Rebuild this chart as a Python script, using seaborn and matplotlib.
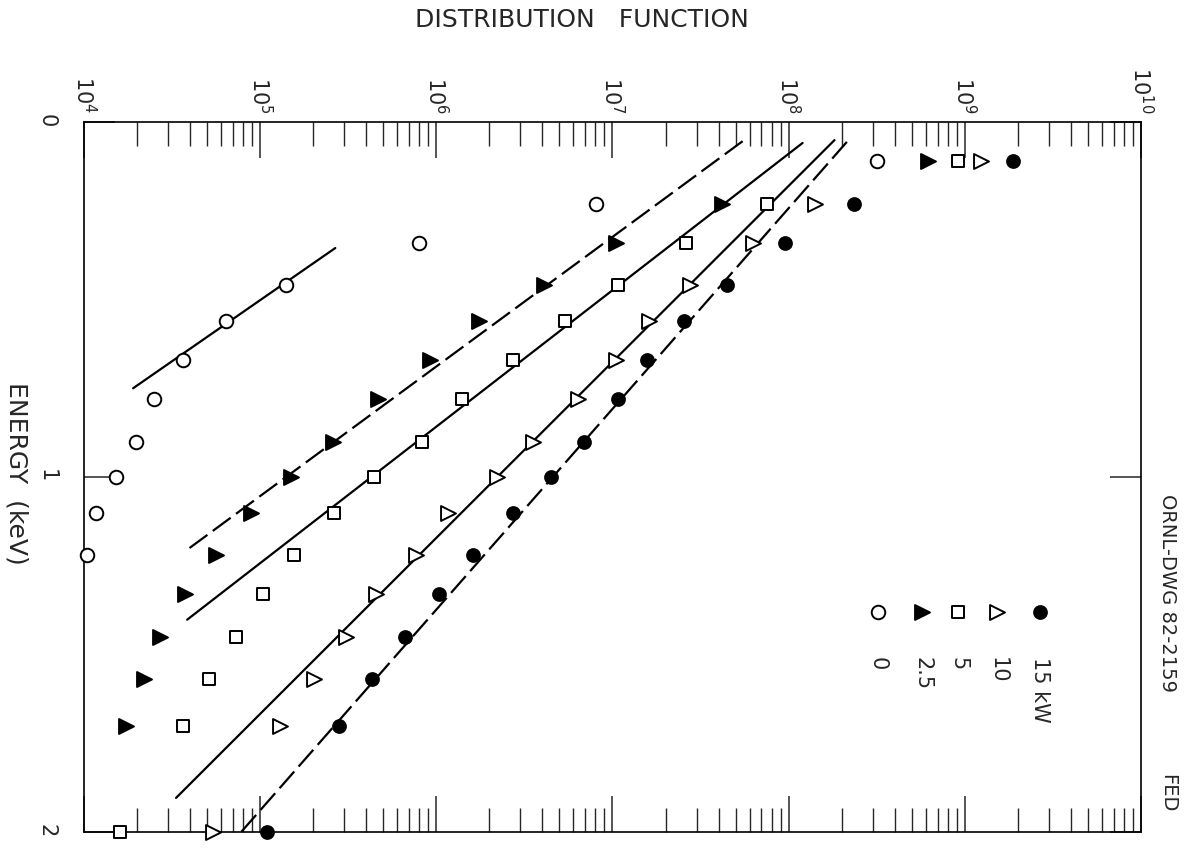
import numpy as np
import pandas as pd
import matplotlib
matplotlib.use("Agg")
import matplotlib.pyplot as plt
import seaborn as sns
from matplotlib.ticker import LogLocator, FixedLocator, NullFormatter

# energias (keV) das linhas de pontos
energy = [0.11, 0.23, 0.34, 0.46, 0.56, 0.67, 0.78, 0.90, 1.00, 1.10,
          1.22, 1.33, 1.45, 1.57, 1.70, 2.00]

# funcao de distribuicao para cada potencia
f_15kw = [1.88e9, 2.36e8, 9.5e7, 4.45e7, 2.53e7, 1.56e7, 1.07e7, 6.9e6,
          4.5e6, 2.74e6, 1.62e6, 1.04e6, 6.6e5, 4.3e5, 2.8e5, 1.1e5]
f_10kw = [1.23e9, 1.42e8, 6.3e7, 2.77e7, 1.61e7, 1.05e7, 6.4e6, 3.56e6,
          2.21e6, 1.17e6, 7.7e5, 4.56e5, 3.08e5, 2.03e5, 1.3e5, 5.4e4]
f_5kw = [9.1e8, 7.5e7, 2.63e7, 1.07e7, 5.4e6, 2.74e6, 1.39e6, 8.3e5,
         4.45e5, 2.63e5, 1.56e5, 1.04e5, 7.3e4, 5.1e4, 3.63e4, 1.6e4]
f_2p5kw = [6.2e8, 4.2e7, 1.05e7, 4.06e6, 1.75e6, 9.2e5, 4.66e5, 2.58e5,
           1.5e5, 8.9e4, 5.6e4, 3.75e4, 2.7e4, 2.19e4, 1.73e4]
f_0kw = [3.16e8, 8.1e6, 8.0e5, 1.41e5, 6.4e4, 3.63e4, 2.5e4, 1.97e4,
         1.52e4, 1.17e4, 1.04e4]

# retas ajustadas (extremos)
fit_e_15 = [0.056, 2.00]
fit_f_15 = [2.14e8, 7.8e4]
fit_e_10 = [0.051, 1.904]
fit_f_10 = [1.82e8, 3.33e4]
fit_e_5 = [0.059, 1.402]
fit_f_5 = [1.2e8, 3.85e4]
fit_e_2p5 = [0.054, 1.205]
fit_f_2p5 = [5.48e7, 3.85e4]
fit_e_0 = [0.355, 0.750]
fit_f_0 = [2.67e5, 1.9e4]

labels = ["15 kW", "10", "5", "2.5", "0"]
x_ticks = [1e4, 1e5, 1e6, 1e7, 1e8, 1e9, 1e10]
x_ticklabels = ["$10^{4}$", "$10^{5}$", "$10^{6}$", "$10^{7}$", "$10^{8}$",
                "$10^{9}$", "$10^{10}$"]

series = [f_15kw, f_10kw, f_5kw, f_2p5kw, f_0kw]
df = pd.concat([pd.DataFrame({"E": energy[:len(v)], "F": v, "P": lab})
                for v, lab in zip(series, labels)], ignore_index=True)

fits = pd.concat([
    pd.DataFrame({"E": fit_e_15, "F": fit_f_15, "P": "15 kW"}),
    pd.DataFrame({"E": fit_e_10, "F": fit_f_10, "P": "10"}),
    pd.DataFrame({"E": fit_e_5, "F": fit_f_5, "P": "5"}),
    pd.DataFrame({"E": fit_e_2p5, "F": fit_f_2p5, "P": "2.5"}),
    pd.DataFrame({"E": fit_e_0, "F": fit_f_0, "P": "0"}),
], ignore_index=True)

sns.set_style("white")
plt.rcParams["font.family"] = ["DejaVu Sans"]

# estilos: marcador, preenchimento, tamanho, estilo da reta
estilo = {
    "15 kW": ("o", "black", 85, (0, (10, 3))),
    "10": (">", "white", 115, "-"),
    "5": ("s", "white", 85, "-"),
    "2.5": (">", "black", 115, (0, (10, 3))),
    "0": ("o", "white", 95, "-"),
}

fig = plt.figure(figsize=(11.86, 8.48), dpi=100)
ax = fig.add_axes([84 / 1186, 1 - 832 / 848, (1141 - 84) / 1186, (832 - 122) / 848])
ax.set_xscale("log")

for lab in labels:
    m, fc, s, ls = estilo[lab]
    sub = fits[fits.P == lab]
    sns.lineplot(data=sub, x="F", y="E", sort=False, estimator=None, color="black",
                 linewidth=1.6, linestyle=ls, ax=ax, legend=False, zorder=2)
    pts = df[df.P == lab]
    sns.scatterplot(data=pts, x="F", y="E", marker=m, s=s, facecolor=fc,
                    edgecolor="black", linewidth=1.4, ax=ax, legend=False,
                    clip_on=False, zorder=3)

ax.set_xlim(1e4, 1e10)
ax.set_ylim(2, 0)
ax.set_xlabel("")
ax.set_ylabel("")

ax.xaxis.set_major_locator(FixedLocator(x_ticks))
ax.set_xticklabels(x_ticklabels)
ax.xaxis.set_minor_locator(LogLocator(base=10, subs=np.arange(2, 10), numticks=20))
ax.xaxis.set_minor_formatter(NullFormatter())
ax.tick_params(axis="x", which="major", direction="in", top=True, bottom=True,
               labeltop=True, labelbottom=False, length=26, width=1.1,
               labelsize=15, labelrotation=-90, pad=6)
ax.tick_params(axis="x", which="minor", direction="in", top=True, bottom=True,
               length=17, width=1.0)

ax.set_yticks([0, 1, 2])
ax.set_yticklabels(["0", "1", "2"])
ax.tick_params(axis="y", which="major", direction="in", left=True, right=True,
               length=22, width=1.1, labelsize=15, labelrotation=-90, pad=20)

for sp in ax.spines.values():
    sp.set_linewidth(1.2)
    sp.set_color("black")

# legenda (girada como no original)
leg_x = [0.904, 0.864, 0.827, 0.793, 0.751]
for lab, lx in zip(labels, leg_x):
    m, fc, s, ls = estilo[lab]
    ax.scatter([lx], [0.310], marker=m, s=s, facecolor=fc, edgecolor="black",
               linewidth=1.4, transform=ax.transAxes, zorder=3)
    ax.text(lx, 0.246, lab, rotation=-90, ha="center", va="top", fontsize=15,
            transform=ax.transAxes)

fig.text(582 / 1186, 1 - 20 / 848, "DISTRIBUTION   FUNCTION", ha="center",
         va="center", fontsize=18)
fig.text(16 / 1186, 1 - 473 / 848, "ENERGY  (keV)", rotation=-90, ha="center",
         va="center", fontsize=18)
fig.text(1168 / 1186, 1 - 593 / 848, "ORNL-DWG 82-2159", rotation=-90,
         ha="center", va="center", fontsize=14)
fig.text(1168 / 1186, 1 - 793 / 848, "FED", rotation=-90, ha="center",
         va="center", fontsize=14)

fig.savefig("out.png", dpi=100)
